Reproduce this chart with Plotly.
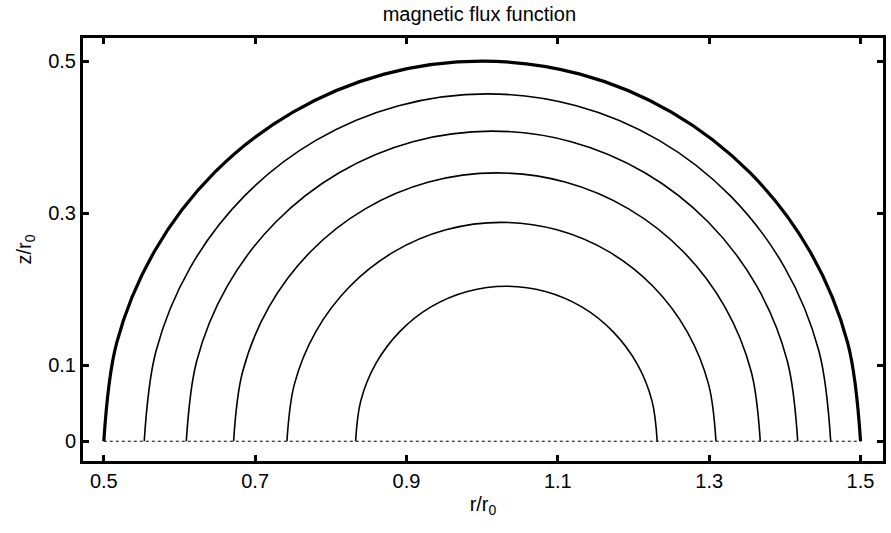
import plotly.graph_objects as go

# Flux-surface contours (r/r0, z/r0), left foot -> right foot
outer_r = [0.5, 0.5170, 0.5670, 0.6464, 0.75, 0.8706, 1.0, 1.1294, 1.25, 1.3536, 1.433, 1.483, 1.5]
outer_z = [0, 0.1294, 0.25, 0.3536, 0.433, 0.4830, 0.5, 0.4830, 0.433, 0.3536, 0.25, 0.1294, 0]

c2_r = [0.5534, 0.5689, 0.6142, 0.6863, 0.7802, 0.8896, 1.007, 1.1244, 1.2338, 1.3277, 1.3998, 1.4451, 1.4606]
c2_z = [0, 0.1183, 0.2285, 0.3231, 0.3958, 0.4414, 0.457, 0.4414, 0.3958, 0.3231, 0.2285, 0.1183, 0]

c3_r = [0.609, 0.6228, 0.6631, 0.7273, 0.811, 0.9084, 1.013, 1.1176, 1.215, 1.2987, 1.3629, 1.4032, 1.417]
c3_z = [0, 0.1056, 0.204, 0.2885, 0.3533, 0.3941, 0.408, 0.3941, 0.3533, 0.2885, 0.204, 0.1056, 0]

c4_r = [0.6715, 0.6834, 0.7181, 0.7734, 0.8455, 0.9294, 1.0195, 1.1096, 1.1935, 1.2656, 1.3209, 1.3556, 1.3675]
c4_z = [0, 0.0914, 0.1765, 0.2496, 0.3057, 0.3410, 0.353, 0.3410, 0.3057, 0.2496, 0.1765, 0.0914, 0]

c5_r = [0.742, 0.7517, 0.78, 0.825, 0.8837, 0.9521, 1.0255, 1.0989, 1.1673, 1.226, 1.271, 1.2993, 1.309]
c5_z = [0, 0.0745, 0.144, 0.2036, 0.2494, 0.2782, 0.288, 0.2782, 0.2494, 0.2036, 0.144, 0.0745, 0]

c6_r = [0.8327, 0.8395, 0.8594, 0.8911, 0.9323, 0.9804, 1.032, 1.0836, 1.1317, 1.1729, 1.2046, 1.2245, 1.2313]
c6_z = [0, 0.0528, 0.102, 0.1442, 0.1767, 0.1970, 0.204, 0.1970, 0.1767, 0.1442, 0.102, 0.0528, 0]

base_r = [0.5, 1.5]
base_z = [0, 0]

x_ticks = [0.5, 0.7, 0.9, 1.1, 1.3, 1.5]
y_ticks = [0, 0.1, 0.3, 0.5]

FONT = "Liberation Sans, Arial, Helvetica, sans-serif"

fig = go.Figure()
fig.add_trace(go.Scatter(x=base_r, y=base_z, mode="lines",
                         line=dict(color="black", width=1, dash="dot"), hoverinfo="skip"))
for rr, zz in [(c2_r, c2_z), (c3_r, c3_z), (c4_r, c4_z), (c5_r, c5_z), (c6_r, c6_z)]:
    fig.add_trace(go.Scatter(x=rr, y=zz, mode="lines",
                             line=dict(color="black", width=1.6, shape="spline")))
fig.add_trace(go.Scatter(x=outer_r, y=outer_z, mode="lines",
                         line=dict(color="black", width=3.2, shape="spline")))

axis_common = dict(showline=True, linecolor="black", linewidth=3, mirror="ticks",
                   ticks="inside", ticklen=6, tickwidth=3, tickcolor="black",
                   showgrid=False, zeroline=False,
                   tickfont=dict(family=FONT, size=20, color="black"))

fig.update_layout(
    width=891, height=533,
    margin=dict(l=83, r=5, t=38, b=72),
    plot_bgcolor="white", paper_bgcolor="white",
    showlegend=False,
    title=dict(text="magnetic flux function", x=0.538, xanchor="center",
               y=1 - 14 / 533, yanchor="middle", yref="container",
               font=dict(family=FONT, size=20, color="black")),
    xaxis=dict(range=[0.4725, 1.5297], tickvals=x_ticks,
               ticktext=[f"{v:g}" for v in x_ticks],
               title=dict(text="r/r<sub>0</sub>", standoff=6,
                          font=dict(family=FONT, size=20, color="black")),
               **axis_common),
    yaxis=dict(range=[-0.026, 0.5305], tickvals=y_ticks,
               ticktext=[f"{v:g}" for v in y_ticks],
               title=dict(text="z/r<sub>0</sub>", standoff=12,
                          font=dict(family=FONT, size=20, color="black")),
               **axis_common),
)

fig.write_html("out.html")
